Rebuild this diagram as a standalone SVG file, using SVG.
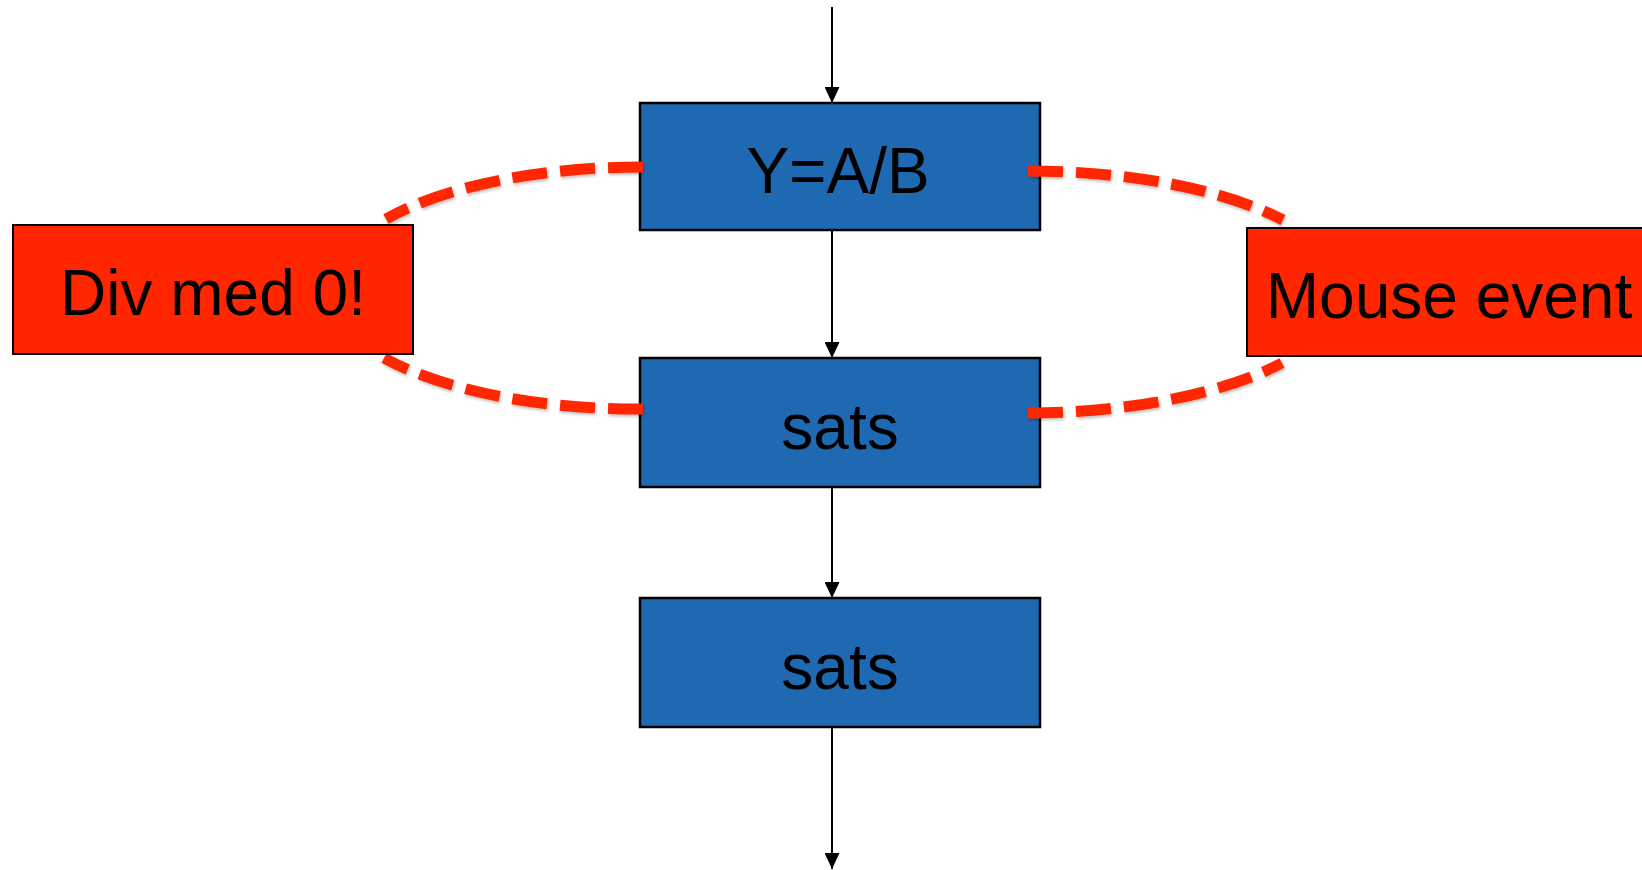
<svg xmlns="http://www.w3.org/2000/svg" width="1642" height="870" viewBox="0 0 1642 870">
  <style>
    .step { fill: #1f69b3; stroke: #000; stroke-width: 2.5; }
    .event { fill: #ff2600; stroke: #000; stroke-width: 2; }
    .label { font-family: "Liberation Sans", Arial, sans-serif; font-size: 64px; fill: #000; text-anchor: middle; }
    .flow { stroke: #000; stroke-width: 2; fill: none; marker-end: url(#arrow); }
    .interrupt { stroke: #ff2600; stroke-width: 11; fill: none; stroke-dasharray: 35 13; filter: url(#soft); }
  </style>
  <defs>
    <marker id="arrow" viewBox="0 0 16 15" refX="16" refY="7.5" markerWidth="16" markerHeight="15" markerUnits="userSpaceOnUse" orient="auto">
      <path d="M0,0 L16,7.5 L0,15 Z" fill="#000"/>
    </marker>
    <filter id="soft" x="-10%" y="-20%" width="120%" height="140%">
      <feDropShadow dx="1" dy="2" stdDeviation="1.5" flood-color="#000" flood-opacity="0.25"/>
    </filter>
  </defs>

  <!-- program flow -->
  <g id="connectors">
    <line class="flow" x1="832" y1="7" x2="832" y2="103"/>
    <line class="flow" x1="832" y1="230" x2="832" y2="358"/>
    <line class="flow" x1="832" y1="487" x2="832" y2="598"/>
    <line class="flow" x1="832" y1="727" x2="832" y2="869"/>
  </g>

  <g id="step-divide">
    <rect class="step" x="640" y="103" width="400" height="127"/>
    <text class="label" x="838" y="193">Y=A/B</text>
  </g>
  <g id="step-sats-1">
    <rect class="step" x="640" y="358" width="400" height="129"/>
    <text class="label" x="840" y="449">sats</text>
  </g>
  <g id="step-sats-2">
    <rect class="step" x="640" y="598" width="400" height="129"/>
    <text class="label" x="840" y="689">sats</text>
  </g>

  <!-- interrupt detours: out of the step, into the handler and back -->
  <g id="interrupts">
    <path class="interrupt" d="M 643 167 A 311 121 0 0 0 386 219"/>
    <path class="interrupt" d="M 643 409 A 311 121 0 0 1 384 358"/>
    <path class="interrupt" d="M 1028 171 A 317 121 0 0 1 1283 220"/>
    <path class="interrupt" d="M 1028 413 A 317 121 0 0 0 1282 363"/>
  </g>

  <g id="event-div0">
    <rect class="event" x="13" y="225" width="400" height="129"/>
    <text class="label" x="213" y="315">Div med 0!</text>
  </g>
  <g id="event-mouse">
    <rect class="event" x="1247" y="228" width="400" height="128"/>
    <text class="label" x="1449" y="318">Mouse event</text>
  </g>
</svg>
